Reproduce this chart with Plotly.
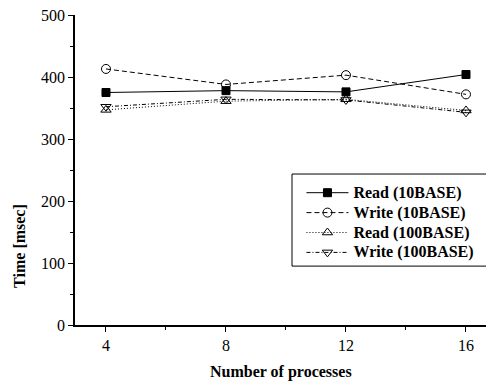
import plotly.graph_objects as go

processes = [4, 8, 12, 16]
read_10base = [375, 378, 376, 404]
write_10base = [413, 388, 403, 372]
read_100base = [347, 361, 364, 346]
write_100base = [352, 364, 363, 343]

font_family = "Liberation Serif, Times New Roman, serif"

fig = go.Figure()
series = [
    ("Read (10BASE)", read_10base, "solid", "square", "black", 8),
    ("Write (10BASE)", write_10base, "5px,3px", "circle-open", "black", 9),
    ("Read (100BASE)", read_100base, "1px,2px", "triangle-up-open", "black", 9),
    ("Write (100BASE)", write_100base, "4px,2px,1px,2px", "triangle-down-open", "black", 9),
]
for name, vals, dash, sym, col, size in series:
    fig.add_trace(go.Scatter(
        x=processes, y=vals,
        name='<span style="font-size:16px">' + name + '</span>',
        mode="lines+markers",
        line=dict(color="black", width=1, dash=dash),
        marker=dict(symbol=sym, size=size, color=col, line=dict(color="black", width=1)),
    ))

fig.update_layout(
    width=486, height=381,
    margin=dict(l=75, r=0, t=15, b=56, autoexpand=False),
    plot_bgcolor="white", paper_bgcolor="white",
    font=dict(family=font_family, size=16, color="black"),
    showlegend=True,
    legend=dict(
        x=0.551, y=0.475, xanchor="left", yanchor="top",
        borderwidth=0, bgcolor="rgba(0,0,0,0)",
        font=dict(family=font_family, size=13, color="black", weight="bold"),
        itemwidth=42, tracegroupgap=0,
    ),
    shapes=[
        dict(type="rect", xref="paper", yref="paper",
             x0=0.528, x1=1.1, y0=0.19, y1=0.487,
             line=dict(color="black", width=1), fillcolor="white", layer="below"),
    ],
    xaxis=dict(
        range=[2.967, 16.667], tickvals=[4, 8, 12, 16], automargin=False,
        showline=True, linecolor="black", linewidth=1.5,
        ticks="outside", ticklen=5, tickcolor="black", tickwidth=1,
        minor=dict(tickvals=[6, 10, 14], ticks="outside", ticklen=3, tickcolor="black"),
        showgrid=False, zeroline=False,
    ),
    yaxis=dict(
        range=[0, 500], tickvals=[0, 100, 200, 300, 400, 500], automargin=False,
        showline=True, linecolor="black", linewidth=1.5,
        ticks="outside", ticklen=5, tickcolor="black", tickwidth=1,
        minor=dict(tickvals=[50, 150, 250, 350, 450], ticks="outside", ticklen=3, tickcolor="black"),
        showgrid=False, zeroline=False,
    ),
    annotations=[
        dict(text="<b>Number of processes</b>", xref="paper", yref="paper",
             x=0.5, y=-0.152, xanchor="center", yanchor="middle", showarrow=False,
             font=dict(family=font_family, size=16, color="black")),
        dict(text="<b>Time [msec]</b>", xref="paper", yref="paper",
             x=-0.134, y=0.255, xanchor="center", yanchor="middle", showarrow=False,
             textangle=-90, font=dict(family=font_family, size=16, color="black")),
    ],
)

fig.write_html("out.html", config={"displayModeBar": False},
               post_script="document.body.style.margin='0';")
